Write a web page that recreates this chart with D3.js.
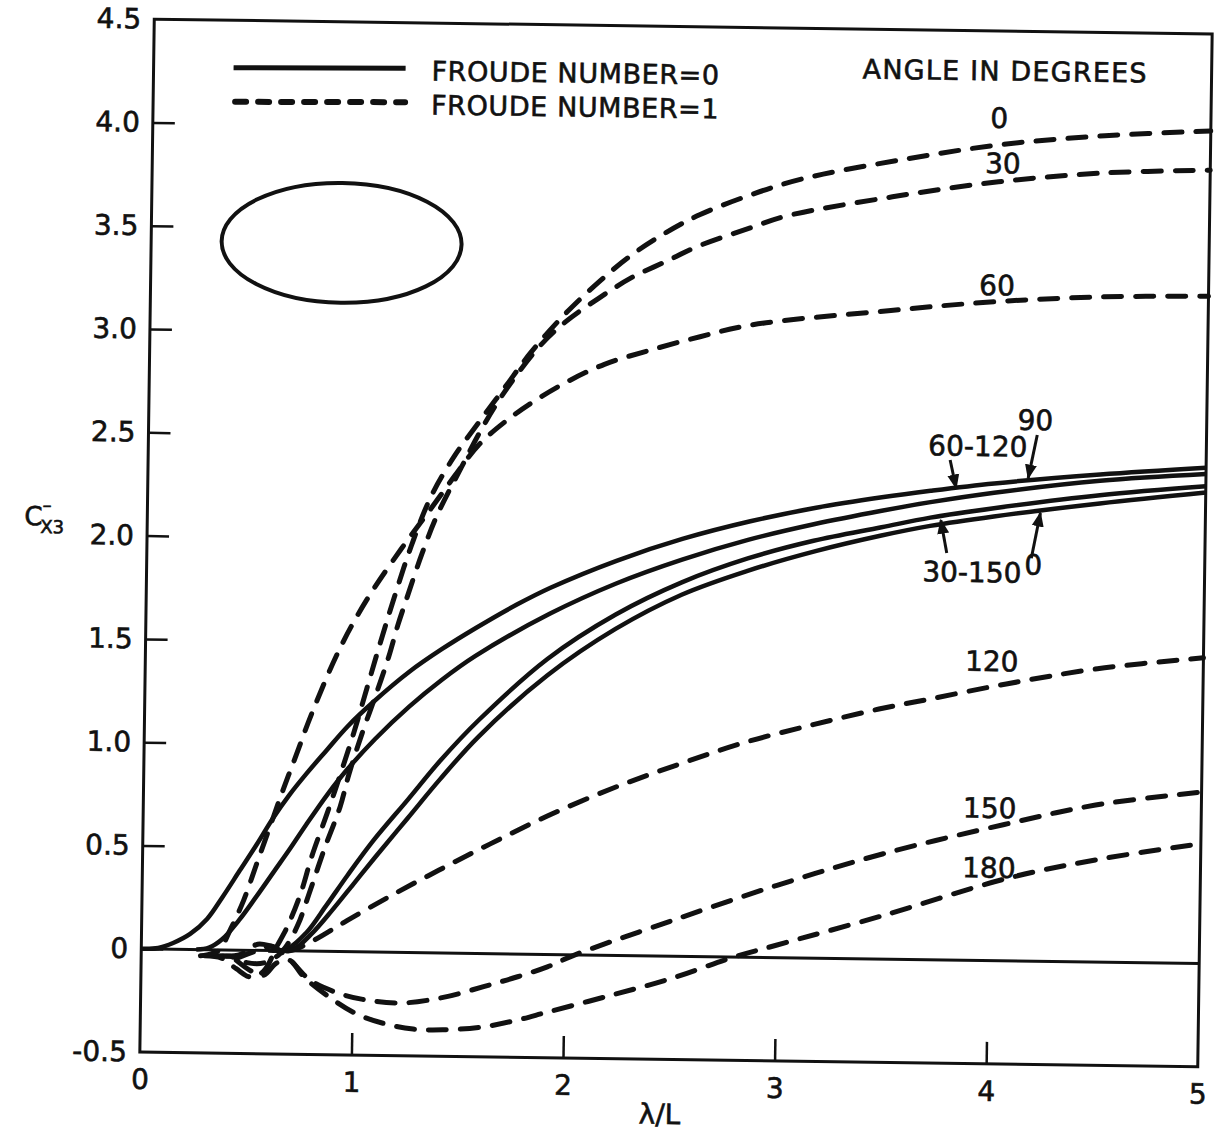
<!DOCTYPE html>
<html>
<head>
<meta charset="utf-8">
<title>Cx3 versus wavelength ratio</title>
<script src="https://d3js.org/d3.v7.min.js"></script>
<style>
  body { margin: 0; background: #fff; }
  text { font-family: "DejaVu Sans", sans-serif; fill: #111; stroke: #111; stroke-width: 0.6px; }
</style>
</head>
<body>
<script>

// ---- data (lambda/L, Cx3) ----
var xTicks = [0, 1, 2, 3, 4, 5];
var yTicks = [-0.5, 0, 0.5, 1.0, 1.5, 2.0, 2.5, 3.0, 3.5, 4.0, 4.5];
var yTickLabels = ["-0.5", "0", "0.5", "1.0", "1.5", "2.0", "2.5", "3.0", "3.5", "4.0", "4.5"];

// Froude number = 0 (solid)
var fr0_90 = [[0,0],[0.08,0.005],[0.15,0.03],[0.23,0.075],[0.31,0.15],[0.38,0.255],[0.46,0.385],[0.54,0.515],[0.61,0.635],[0.69,0.755],[0.77,0.86],[0.86,0.97],[0.96,1.09],[1.08,1.21],[1.25,1.36],[1.40,1.47],[1.56,1.575],[1.75,1.69],[1.91,1.775],[2.22,1.91],[2.53,2.02],[2.85,2.11],[3.16,2.18],[3.47,2.235],[3.70,2.27],[4.0,2.31],[4.5,2.36],[5.0,2.40]];
var fr0_60_120 = [[0.26,0],[0.32,0.01],[0.38,0.05],[0.46,0.145],[0.54,0.26],[0.62,0.38],[0.70,0.50],[0.77,0.61],[0.87,0.76],[0.96,0.88],[1.09,1.03],[1.25,1.19],[1.40,1.32],[1.56,1.44],[1.91,1.65],[2.22,1.80],[2.53,1.92],[2.84,2.02],[3.15,2.10],[3.47,2.17],[3.70,2.215],[4.0,2.265],[4.5,2.33],[5.0,2.37]];
var fr0_30_150 = [[0.60,0],[0.69,0.01],[0.78,0.09],[0.87,0.22],[0.97,0.37],[1.09,0.54],[1.25,0.74],[1.40,0.93],[1.58,1.13],[1.90,1.43],[2.22,1.65],[2.53,1.81],[2.84,1.93],[3.15,2.02],[3.47,2.09],[3.70,2.14],[4.0,2.19],[4.5,2.26],[5.0,2.31]];
var fr0_0 = [[0.62,0],[0.72,0.01],[0.80,0.08],[0.90,0.20],[1.0,0.33],[1.1,0.46],[1.25,0.65],[1.4,0.84],[1.58,1.05],[1.90,1.35],[2.22,1.58],[2.53,1.75],[2.84,1.87],[3.16,1.97],[3.47,2.05],[3.70,2.10],[4.0,2.15],[4.5,2.22],[5.0,2.28]];

// Froude number = 1 (dashed)
var fr1_0 = [[0.30,-0.03],[0.38,-0.04],[0.45,-0.09],[0.52,-0.13],[0.58,-0.10],[0.64,0.02],[0.69,0.12],[0.75,0.28],[0.80,0.46],[0.87,0.67],[0.93,0.86],[0.99,1.06],[1.05,1.28],[1.11,1.50],[1.17,1.71],[1.25,1.97],[1.34,2.21],[1.45,2.41],[1.56,2.57],[1.68,2.74],[1.80,2.91],[1.96,3.10],[2.12,3.26],[2.27,3.39],[2.43,3.50],[2.59,3.59],[2.83,3.69],[3.07,3.77],[3.54,3.87],[4.01,3.95],[4.5,4.00],[5.0,4.03]];
var fr1_30 = [[0.35,-0.03],[0.42,-0.03],[0.50,-0.06],[0.58,-0.06],[0.65,-0.02],[0.69,0.03],[0.74,0.13],[0.79,0.28],[0.86,0.50],[0.93,0.70],[0.97,0.86],[1.03,1.06],[1.09,1.24],[1.15,1.43],[1.19,1.58],[1.23,1.71],[1.30,1.93],[1.37,2.12],[1.48,2.35],[1.58,2.55],[1.68,2.72],[1.84,2.94],[1.96,3.06],[2.12,3.18],[2.27,3.28],[2.43,3.36],[2.59,3.44],[2.83,3.53],[3.0,3.59],[3.5,3.69],[4.0,3.77],[4.5,3.82],[5.0,3.84]];
var fr1_60 = [[0.28,-0.03],[0.33,-0.02],[0.37,0.0],[0.42,0.10],[0.48,0.24],[0.54,0.42],[0.60,0.60],[0.66,0.78],[0.72,0.95],[0.79,1.15],[0.92,1.47],[1.04,1.70],[1.20,1.95],[1.34,2.15],[1.45,2.31],[1.56,2.46],[1.69,2.58],[1.81,2.67],[1.97,2.77],[2.15,2.86],[2.36,2.93],[2.60,3.00],[2.84,3.06],[3.5,3.14],[4.0,3.19],[4.5,3.22],[5.0,3.23]];
var fr1_120 = [[0.40,-0.03],[0.47,-0.02],[0.55,0.03],[0.62,0.02],[0.70,0.0],[0.81,0.05],[0.97,0.15],[1.17,0.27],[1.40,0.40],[1.64,0.53],[1.91,0.67],[2.22,0.81],[2.53,0.93],[2.84,1.04],[3.16,1.13],[3.47,1.21],[3.70,1.26],[4.07,1.34],[4.5,1.42],[5.0,1.48]];
var fr1_150 = [[0.45,-0.04],[0.55,0.0],[0.62,0.02],[0.70,-0.04],[0.80,-0.14],[0.93,-0.20],[1.05,-0.23],[1.23,-0.245],[1.43,-0.215],[1.62,-0.16],[1.78,-0.11],[1.92,-0.06],[2.05,0.0],[2.5,0.17],[3.0,0.35],[3.5,0.51],[4.07,0.66],[4.5,0.76],[5.0,0.83]];
var fr1_180 = [[0.45,-0.05],[0.52,-0.10],[0.58,-0.12],[0.64,-0.06],[0.70,-0.045],[0.77,-0.125],[0.89,-0.22],[1.02,-0.30],[1.15,-0.345],[1.29,-0.37],[1.43,-0.372],[1.62,-0.355],[1.78,-0.32],[1.92,-0.28],[2.2,-0.20],[2.5,-0.11],[2.8,0.0],[3.0,0.06],[3.5,0.21],[4.09,0.40],[4.53,0.50],[5.0,0.58]];

var solidSeries = [fr0_90, fr0_60_120, fr0_30_150, fr0_0];
var dashedSeries = [fr1_0, fr1_30, fr1_60, fr1_120, fr1_150, fr1_180];

// ---- drawing ----
var W = 1215, H = 1131;

var x = d3.scaleLinear().domain([0, 5]).range([147, 1205]);
var y = d3.scaleLinear().domain([-0.5, 4.5]).range([1059.5, 26.5]);

var svg = d3.select("body").append("svg")
    .attr("width", W)
    .attr("height", H);

// the scanned figure sits slightly rotated on the page
var chart = svg.append("g")
    .attr("transform", "rotate(0.8,676,543)");

// frame
chart.append("rect")
    .attr("x", x(0)).attr("y", y(4.5))
    .attr("width", x(5) - x(0)).attr("height", y(-0.5) - y(4.5))
    .attr("fill", "none").attr("stroke", "#111").attr("stroke-width", 3);

// y axis, ticks pointing inward
var yAxis = chart.append("g")
    .attr("transform", "translate(" + x(0) + ",0)")
    .call(d3.axisLeft(y)
        .tickValues(yTicks)
        .tickSize(-22)
        .tickPadding(13)
        .tickFormat(function(d, i){ return yTickLabels[i]; }));
yAxis.select(".domain").remove();
yAxis.selectAll("line").attr("stroke", "#111").attr("stroke-width", 2.5)
    .filter(function(d){ return d === 4.5 || d === -0.5; }).remove();
yAxis.selectAll("text").attr("font-size", 28).attr("fill", "#111");

// x axis
var xAxis = chart.append("g")
    .attr("transform", "translate(0," + y(-0.5) + ")")
    .call(d3.axisBottom(x)
        .tickValues(xTicks)
        .tickSize(-22)
        .tickPadding(17)
        .tickFormat(d3.format("d")));
xAxis.select(".domain").remove();
xAxis.selectAll("line").attr("stroke", "#111").attr("stroke-width", 2.5)
    .filter(function(d){ return d === 0 || d === 5; }).remove();
xAxis.selectAll("text").attr("font-size", 28).attr("fill", "#111");

// zero line
chart.append("line")
    .attr("x1", x(0)).attr("x2", x(5))
    .attr("y1", y(0)).attr("y2", y(0))
    .attr("stroke", "#111").attr("stroke-width", 3);

var line = d3.line()
    .x(function(d){ return x(d[0]); })
    .y(function(d){ return y(d[1]); })
    .curve(d3.curveCatmullRom.alpha(0.5));

chart.selectAll(".solid")
    .data(solidSeries)
    .enter()
    .append("path")
    .attr("class", "solid")
    .attr("d", line)
    .attr("fill", "none")
    .attr("stroke", "#111")
    .attr("stroke-width", 4.5);

chart.selectAll(".dashed")
    .data(dashedSeries)
    .enter()
    .append("path")
    .attr("class", "dashed")
    .attr("d", line)
    .attr("fill", "none")
    .attr("stroke", "#111")
    .attr("stroke-width", 5)
    .attr("stroke-linecap", "round")
    .attr("stroke-dasharray", "18,14");

// hull section sketch
chart.append("ellipse")
    .attr("cx", x(0.90)).attr("cy", y(3.43))
    .attr("rx", x(0.567) - x(0)).attr("ry", y(0) - y(0.29))
    .attr("fill", "none").attr("stroke", "#111").attr("stroke-width", 4);

// legend
chart.append("line")
    .attr("x1", 227).attr("x2", 399).attr("y1", 74).attr("y2", 72)
    .attr("stroke", "#111").attr("stroke-width", 5);
chart.append("line")
    .attr("x1", 229).attr("x2", 399).attr("y1", 108).attr("y2", 106)
    .attr("stroke", "#111").attr("stroke-width", 6)
    .attr("stroke-linecap", "round")
    .attr("stroke-dasharray", "11,12");
chart.append("text").attr("x", 425).attr("y", 84)
    .attr("font-size", 27).attr("letter-spacing", 0.6).text("FROUDE NUMBER=0");
chart.append("text").attr("x", 425).attr("y", 118)
    .attr("font-size", 27).attr("letter-spacing", 0.6).text("FROUDE NUMBER=1");
chart.append("text").attr("x", 856).attr("y", 76)
    .attr("font-size", 27).attr("letter-spacing", 1.2).text("ANGLE IN DEGREES");

// curve labels
var labels = [
    ["0", 4.00, 4.08], ["30", 4.02, 3.86], ["60", 4.00, 3.27],
    ["90", 4.19, 2.62], ["60-120", 3.92, 2.49], ["30-150", 3.90, 1.88],
    ["0", 4.19, 1.92], ["120", 4.00, 1.45], ["150", 4.00, 0.74], ["180", 4.00, 0.45]
];
chart.selectAll(".lab")
    .data(labels)
    .enter()
    .append("text")
    .attr("class", "lab")
    .attr("x", function(d){ return x(d[1]); })
    .attr("y", function(d){ return y(d[2]); })
    .attr("dy", "0.36em")
    .attr("text-anchor", "middle")
    .attr("font-size", 28)
    .text(function(d){ return d[0]; });

// pointer arrows
svg.append("defs").append("marker")
    .attr("id", "head")
    .attr("viewBox", "0 0 10 10")
    .attr("refX", 9).attr("refY", 5)
    .attr("markerWidth", 5).attr("markerHeight", 5)
    .attr("orient", "auto")
  .append("path")
    .attr("d", "M0,1 L10,5 L0,9 Z")
    .attr("fill", "#111");

var arrows = [
    [4.20, 2.547, 4.16, 2.338],
    [3.79, 2.42, 3.82, 2.285],
    [3.78, 1.97, 3.75, 2.128],
    [4.18, 1.95, 4.22, 2.17]
];
chart.selectAll(".arrow")
    .data(arrows)
    .enter()
    .append("line")
    .attr("class", "arrow")
    .attr("x1", function(d){ return x(d[0]); })
    .attr("y1", function(d){ return y(d[1]); })
    .attr("x2", function(d){ return x(d[2]); })
    .attr("y2", function(d){ return y(d[3]); })
    .attr("stroke", "#111").attr("stroke-width", 3)
    .attr("marker-end", "url(#head)");

// axis titles
chart.append("text")
    .attr("x", x(2.46)).attr("y", 1124)
    .attr("text-anchor", "middle")
    .attr("font-size", 28)
    .text("\u03bb/L");

var yt = chart.append("text")
    .attr("x", 24).attr("y", 534)
    .attr("font-size", 26);
yt.append("tspan").text("C");
yt.append("tspan").attr("font-size", 18).attr("dy", -14).text("\u2013");
yt.append("tspan").attr("font-size", 18).attr("dx", -11).attr("dy", 22).text("X3");

</script>
</body>
</html>
